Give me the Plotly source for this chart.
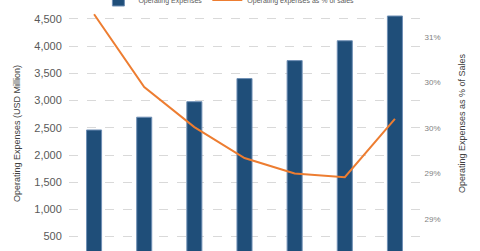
import plotly.graph_objects as go

years = ["2011", "2012", "2013", "2014", "2015", "2016", "2017"]
opex = [2460, 2695, 2980, 3405, 3735, 4100, 4555]
opex_pct = [31.25, 30.45, 30.01, 29.67, 29.50, 29.46, 30.10]

left_ticks = [500, 1000, 1500, 2000, 2500, 3000, 3500, 4000, 4500]
right_tickvals = [29.0, 29.5, 30.0, 30.5, 31.0]
right_ticktext = ["29%", "29%", "30%", "30%", "31%"]

fig = go.Figure()
fig.add_trace(go.Bar(
    x=years, y=opex, name="Operating Expenses",
    marker=dict(color="#1f4e79", line=dict(color="#6f8fb5", width=1)),
    width=0.3,
))
fig.add_trace(go.Scatter(
    x=years, y=opex_pct, name="Operating expenses as % of sales",
    mode="lines", line=dict(color="#ed7d31", width=2), yaxis="y2",
))

fig.update_layout(
    width=480, height=251,
    margin=dict(l=69, r=60, t=0, b=0, autoexpand=False),
    paper_bgcolor="white", plot_bgcolor="white",
    font=dict(family="Liberation Sans, Arial, sans-serif", color="#595959"),
    showlegend=True,
    legend=dict(orientation="h", xref="container", yref="container",
                x=0.205, y=1.0, xanchor="left", yanchor="middle",
                itemwidth=30, tracegroupgap=0,
                font=dict(size=7, color="#595959"), bgcolor="rgba(0,0,0,0)"),
    xaxis=dict(showticklabels=False, showgrid=False, zeroline=False,
               showline=False, range=[-0.5, 6.5]),
    yaxis=dict(range=[236, 4849], tickvals=left_ticks,
               tickformat=",", showgrid=True, gridcolor="#d9d9d9",
               griddash="dash", gridwidth=1, zeroline=False,
               ticks="outside", ticklen=4, tickcolor="rgba(0,0,0,0)",
               tickfont=dict(size=11, color="#595959")),
    yaxis2=dict(range=[28.648, 31.407], overlaying="y", side="right",
                tickvals=right_tickvals, ticktext=right_ticktext,
                showgrid=False, zeroline=False,
                ticks="outside", ticklen=2, tickcolor="rgba(0,0,0,0)",
                tickfont=dict(size=8, color="#7f7f7f")),
    annotations=[
        dict(text="Operating Expenses (USD Million)", xref="paper", yref="paper",
             x=-0.148, y=0.466, textangle=-90, showarrow=False,
             font=dict(size=9, color="#404040"), xanchor="center", yanchor="middle"),
        dict(text="Operating Expenses as % of Sales", xref="paper", yref="paper",
             x=1.1197, y=0.51, textangle=-90, showarrow=False,
             font=dict(size=9, color="#404040"), xanchor="center", yanchor="middle"),
    ],
)

fig.write_html("out.html")
